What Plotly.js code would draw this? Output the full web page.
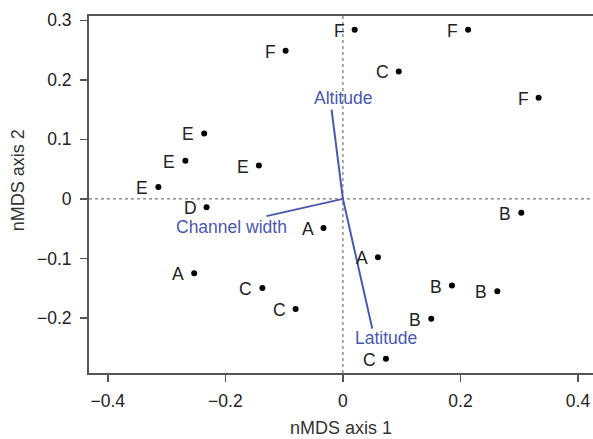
<!DOCTYPE html>
<html><head><meta charset="utf-8">
<script src="https://cdn.plot.ly/plotly-3.0.1.min.js"></script>
<style>html,body{margin:0;padding:0;background:#fff}</style>
</head><body>
<div id="chart" style="width:593px;height:439px"></div>
<script>
// Site scores (nMDS axis 1, axis 2) and site group labels
const siteLabels = ["F","E","E","E","E","D","F","F","C","F","B","A","C","C","A","A","B","B","B","C"];
const axis1 = [-0.0975,-0.236,-0.268,-0.143,-0.314,-0.232,0.020,0.213,0.095,0.333,0.3035,-0.253,-0.137,-0.0805,-0.033,0.0596,0.1855,0.2627,0.1503,0.0732];
const axis2 = [0.249,0.110,0.064,0.056,0.020,-0.014,0.284,0.284,0.214,0.170,-0.0235,-0.125,-0.1496,-0.185,-0.049,-0.098,-0.1457,-0.155,-0.2015,-0.2685];

// Environmental vectors
const vecNames = ["Altitude","Latitude","Channel width"];
const vecX = [-0.0193, 0.050, -0.130];
const vecY = [0.150, -0.218, -0.029];
const vecLabelX = [0.0, 0.074, -0.19];
const vecLabelY = [0.170, -0.234, -0.048];

const xTicks = [-0.4,-0.2,0,0.2,0.4];
const yTicks = [-0.2,-0.1,0,0.1,0.2,0.3];
const xTitle = "nMDS axis 1";
const yTitle = "nMDS axis 2";

const FONT = "Liberation Sans, Arial, sans-serif";
const blue = "#4a58b0";
const traces = [];
vecNames.forEach((n,i)=>{
  traces.push({x:[0,vecX[i]], y:[0,vecY[i]], mode:"lines", line:{color:blue,width:2}, hoverinfo:"skip", showlegend:false});
});
traces.push({x:axis1, y:axis2, mode:"markers", marker:{color:"#000",size:6}, showlegend:false});

const annotations = siteLabels.map((t,i)=>({x:axis1[i], y:axis2[i], text:t, showarrow:false, xanchor:"right", xshift:-8, yshift:-1,
  font:{family:FONT, size:17.5, color:"#222"}}));
vecNames.forEach((n,i)=>annotations.push({x:vecLabelX[i], y:vecLabelY[i], text:n, showarrow:false, xanchor:"center",
  font:{family:FONT, size:17.5, color:blue}}));
annotations.push({xref:"paper", yref:"paper", x:0.5, y:-0.154, xanchor:"center", yanchor:"middle", text:xTitle, showarrow:false,
  font:{family:FONT, size:18, color:"#333"}});
annotations.push({xref:"paper", yref:"paper", x:-0.142, y:0.541, xanchor:"center", yanchor:"middle", text:yTitle, showarrow:false, textangle:-90,
  font:{family:FONT, size:18, color:"#333"}});

const fmt = v => v===0 ? "0" : (v<0?"\u2212":"") + Math.abs(v).toFixed(1);

const layout = {
  width:593, height:439,
  margin:{l:89, r:0, t:16, b:66},
  paper_bgcolor:"#fff", plot_bgcolor:"#fff",
  font:{family:FONT, size:17, color:"#222"},
  showlegend:false,
  xaxis:{range:[-0.432,0.4255], tickvals:xTicks, ticktext:xTicks.map(fmt), automargin:false,
    showgrid:false, zeroline:false, showline:true, linecolor:"#555", linewidth:2, mirror:true,
    ticks:"outside", ticklen:7, tickcolor:"#555", tickwidth:1.5, tickfont:{size:17.5, color:"#222"}, ticklabelstandoff:4},
  yaxis:{range:[-0.2925,0.3072], tickvals:yTicks, ticktext:yTicks.map(fmt), automargin:false,
    showgrid:false, zeroline:false, showline:true, linecolor:"#555", linewidth:2,
    ticks:"outside", ticklen:7, tickcolor:"#555", tickwidth:1.5, tickfont:{size:17.5, color:"#222"}, ticklabelstandoff:5},
  shapes:[
    {type:"line", xref:"paper", x0:0, x1:1, yref:"y", y0:0, y1:0, line:{color:"#555", width:1, dash:"dot"}, layer:"below"},
    {type:"line", yref:"paper", y0:0, y1:1, xref:"x", x0:0, x1:0, line:{color:"#555", width:1, dash:"dot"}, layer:"below"}
  ],
  annotations:annotations
};
Plotly.newPlot("chart", traces, layout, {staticPlot:true, displayModeBar:false});
</script>
</body></html>
